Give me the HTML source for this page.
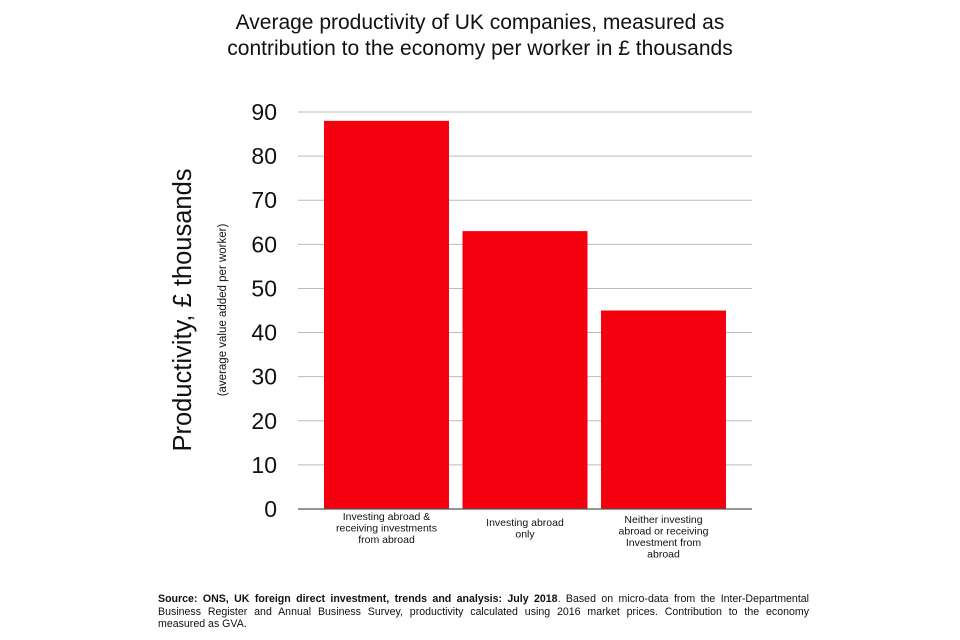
<!DOCTYPE html>
<html><head><meta charset="utf-8"><style>
body{margin:0;background:#fff;}
svg{display:block;font-family:"Liberation Sans",sans-serif;}
.foot{position:absolute;left:158px;top:593px;width:651px;font-family:"Liberation Sans",sans-serif;font-size:10.6px;line-height:12.6px;color:#111;}
.foot div{text-align:justify;text-align-last:justify;white-space:nowrap;}
.foot div.last{text-align-last:left;}
</style></head><body>
<div style="position:relative;width:960px;height:640px;overflow:hidden">
<svg id="c" width="960" height="640">
<text x="480" y="29" text-anchor="middle" font-size="21" fill="#111">Average productivity of UK companies, measured as</text>
<text x="480" y="55" text-anchor="middle" font-size="21" fill="#111">contribution to the economy per worker in £ thousands</text>
<text transform="translate(191,310) rotate(-90)" text-anchor="middle" font-size="25.5" fill="#111">Productivity, £ thousands</text>
<text transform="translate(226,310) rotate(-90)" text-anchor="middle" font-size="11.5" fill="#111">(average value added per worker)</text>
</svg>
<div class="foot"><div><b>Source: ONS, UK foreign direct investment, trends and analysis: July 2018</b>. Based on micro-data from the Inter-Departmental</div><div>Business Register and Annual Business Survey, productivity calculated using 2016 market prices. Contribution to the economy</div><div class="last">measured as GVA.</div></div>
</div>
<script>
const categories=[["Investing abroad &","receiving investments","from abroad"],["Investing abroad","only"],["Neither investing","abroad or receiving","Investment from","abroad"]];
const values=[88,63,45];
const ticks=[0,10,20,30,40,50,60,70,80,90];
const svg=document.getElementById('c');const NS='http://www.w3.org/2000/svg';
const x0=298,x1=752,y0=509,y90=112;
const y=v=>y0-(v/90)*(y0-y90);
const bw=125,step=138.5,bx=i=>324+i*step;
function mk(t,a){const e=document.createElementNS(NS,t);for(const k in a)e.setAttribute(k,a[k]);svg.appendChild(e);return e;}
ticks.forEach(t=>{
 if(t>0){const l=mk('line',{x1:x0,x2:x1,y1:y(t),y2:y(t),stroke:'#bbb','stroke-width':1});
 
 }
 const tx=mk('text',{x:277,y:y(t)+8,'text-anchor':'end','font-size':23,fill:'#111'});tx.textContent=t;
 
 
});
values.forEach((v,i)=>{
 const r=mk('rect',{x:bx(i),y:y(v),width:bw,height:y0-y(v),fill:'#f5000f'});
 
 
 const lines=categories[i];const top=lines.length===2?526:(lines.length===4?523:520);
 lines.forEach((s,j)=>{const t=mk('text',{x:bx(i)+bw/2,y:top+j*11.5,'text-anchor':'middle','font-size':10.5,fill:'#111'});t.textContent=s;
 
 });
});
const ax=mk('line',{x1:x0,x2:x1,y1:y0,y2:y0,stroke:'#555','stroke-width':1.2});


</script>
</body></html>
